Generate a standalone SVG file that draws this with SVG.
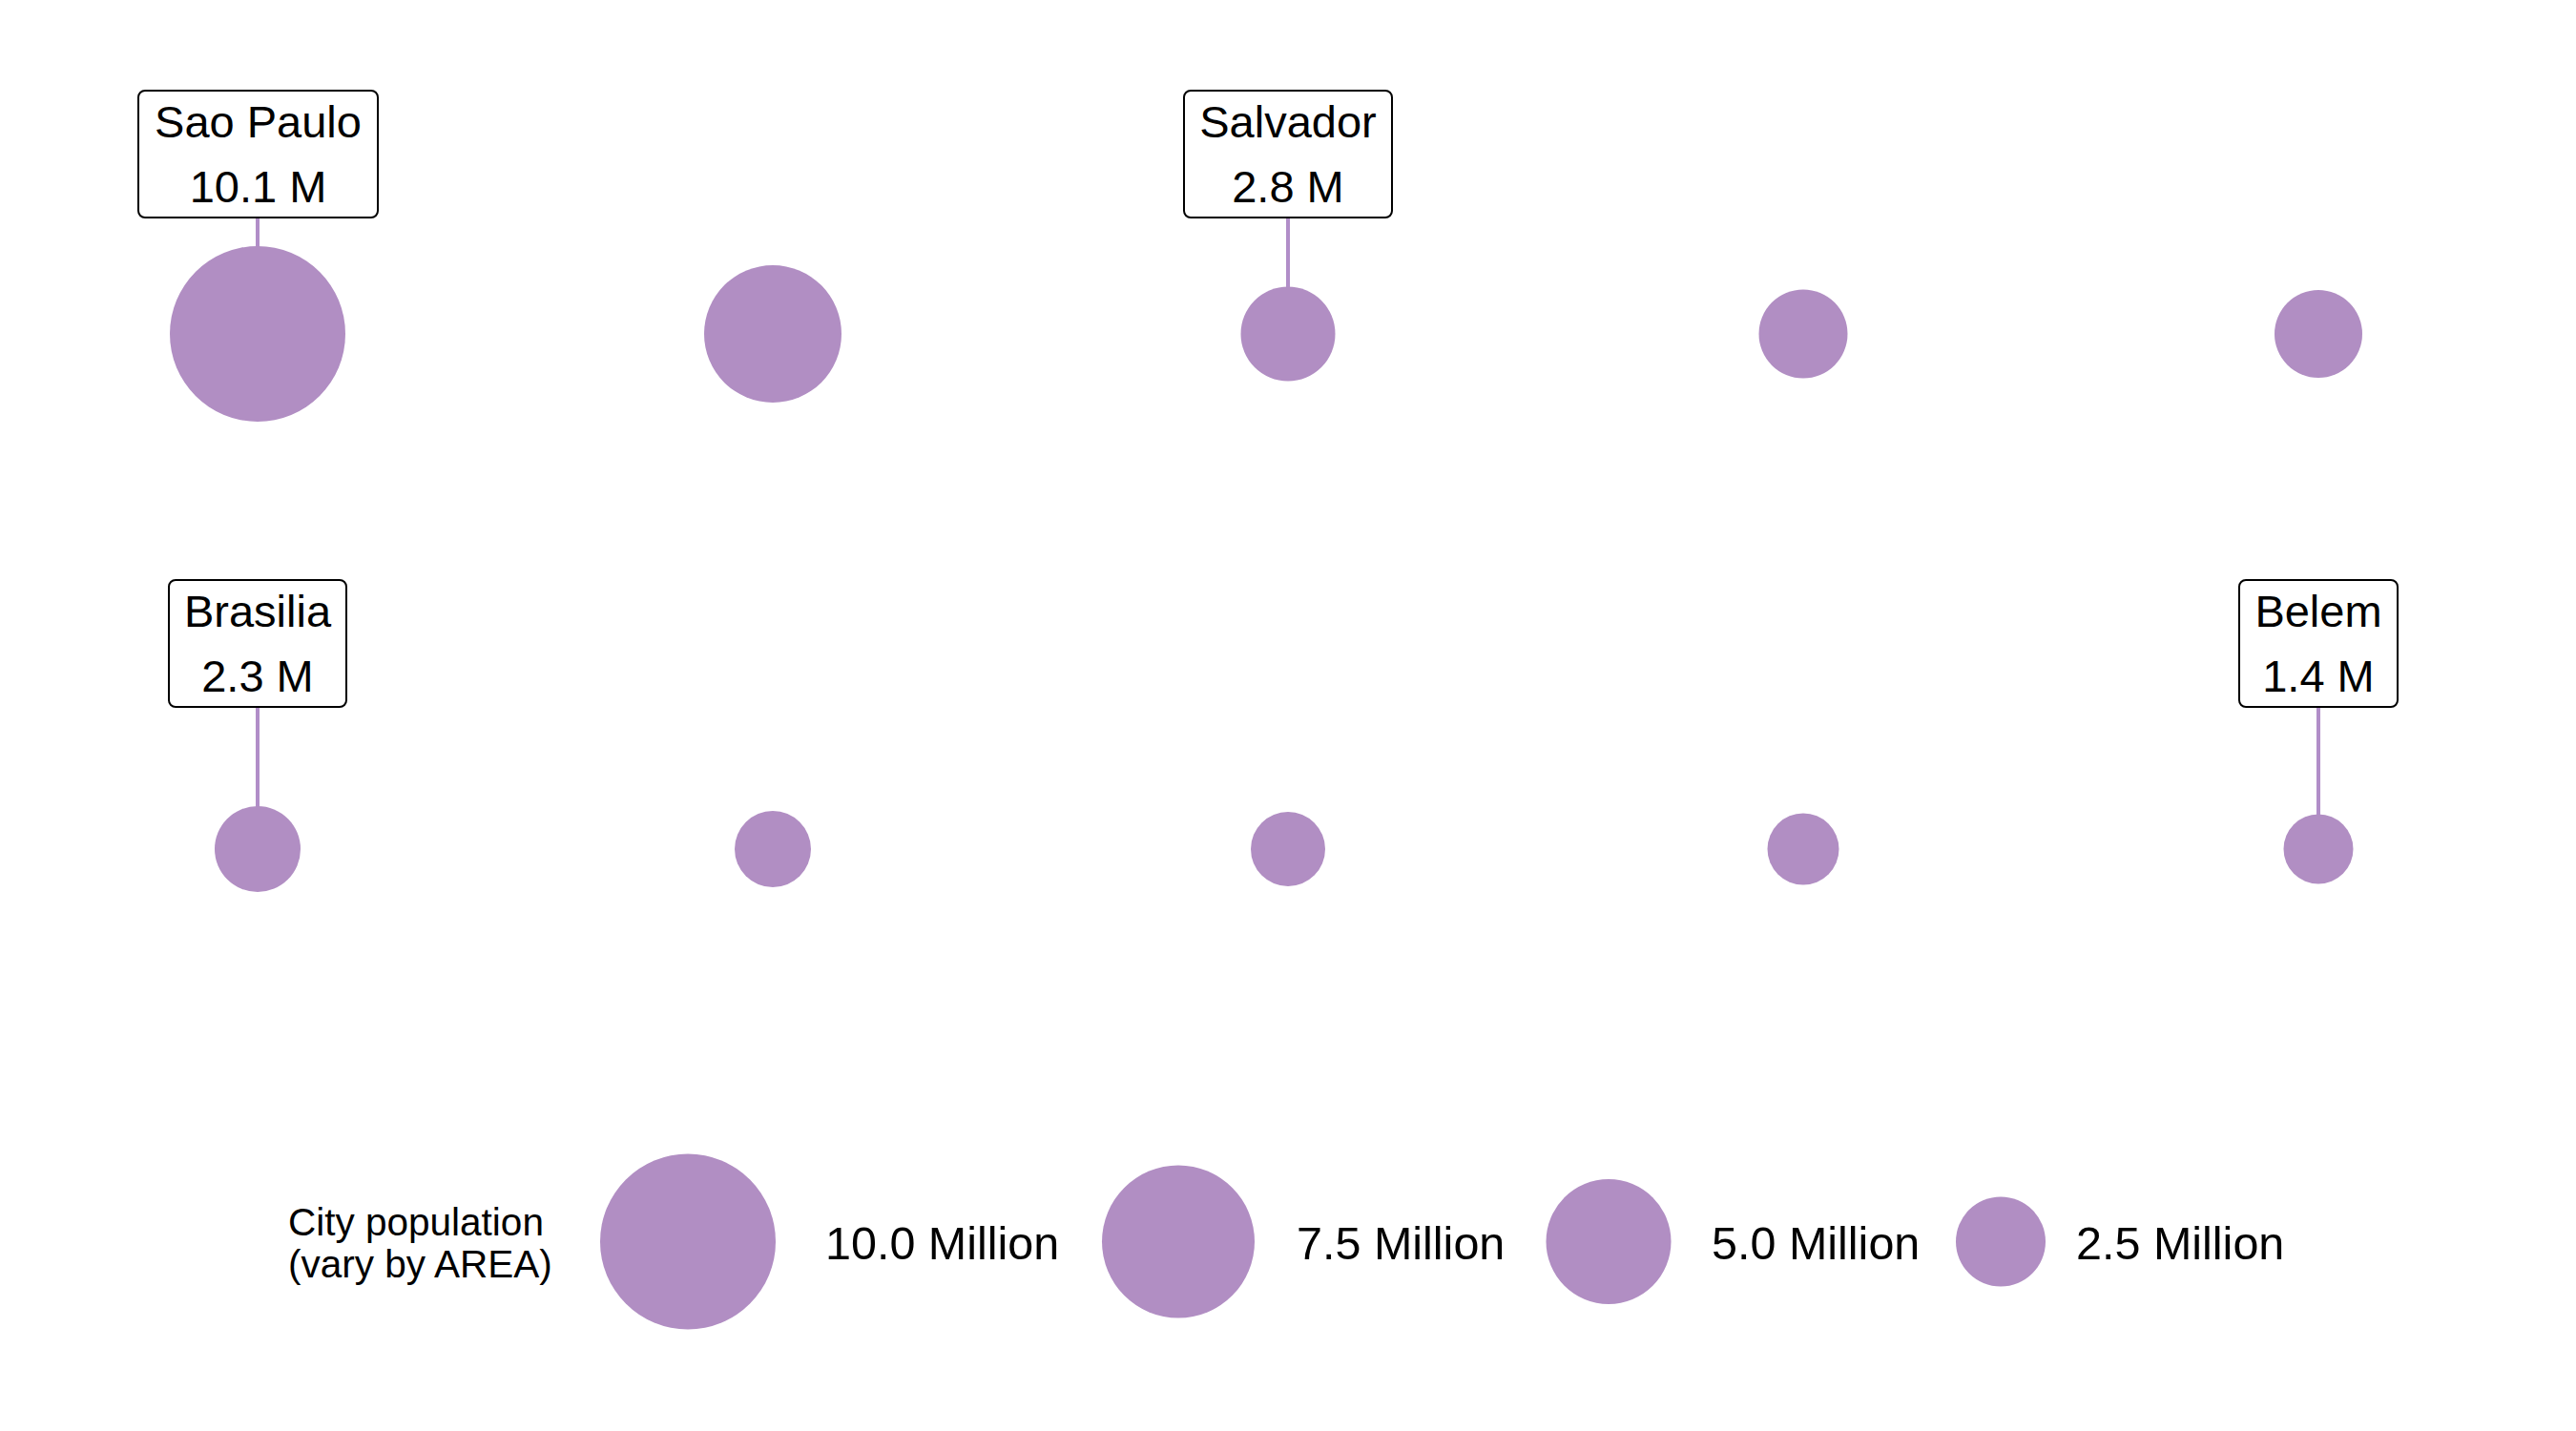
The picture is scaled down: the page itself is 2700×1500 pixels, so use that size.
<svg xmlns="http://www.w3.org/2000/svg" width="2700" height="1500" viewBox="0 0 2700 1500">
<style>
.bg{fill:#ffffff}
.pt{fill:#b18ec3}
.lbl{fill:#ffffff;stroke:#000000;stroke-width:2}
.t{font-family:"Liberation Sans",Arial,Helvetica,sans-serif;fill:#000000;text-anchor:middle;font-size:47px}
.lg{font-family:"Liberation Sans",Arial,Helvetica,sans-serif;fill:#000000;font-size:48.5px}
.lt{font-family:"Liberation Sans",Arial,Helvetica,sans-serif;fill:#000000;font-size:40.5px}
.cn{stroke:#b18ec8;stroke-width:4;fill:none}
</style>
<rect class="bg" x="0" y="0" width="2700" height="1500"/>
<g id="connectors">
<line class="cn" x1="270" y1="228" x2="270" y2="262"/>
<line class="cn" x1="1350" y1="228" x2="1350" y2="304"/>
<line class="cn" x1="270" y1="741" x2="270" y2="849"/>
<line class="cn" x1="2430" y1="741" x2="2430" y2="857"/>
</g>
<g id="points">
<circle id="p1" class="pt" cx="270" cy="350" r="92"/>
<circle id="p2" class="pt" cx="810" cy="350" r="72"/>
<circle id="p3" class="pt" cx="1350" cy="350" r="49.5"/>
<circle id="p4" class="pt" cx="1890" cy="350" r="46.5"/>
<circle id="p5" class="pt" cx="2430" cy="350" r="46"/>
<circle id="p6" class="pt" cx="270" cy="890" r="45"/>
<circle id="p7" class="pt" cx="810" cy="890" r="40"/>
<circle id="p8" class="pt" cx="1350" cy="890" r="39"/>
<circle id="p9" class="pt" cx="1890" cy="890" r="37.5"/>
<circle id="p10" class="pt" cx="2430" cy="890" r="36.5"/>
</g>
<g id="label-saopaulo">
<rect class="lbl" x="145" y="95" width="251" height="133" rx="7"/>
<text class="t" x="270.5" y="144">Sao Paulo</text>
<text class="t" x="270.5" y="212">10.1 M</text>
</g>
<g id="label-salvador">
<rect class="lbl" x="1241" y="95" width="218" height="133" rx="7"/>
<text class="t" x="1350" y="144">Salvador</text>
<text class="t" x="1350" y="212">2.8 M</text>
</g>
<g id="label-brasilia">
<rect class="lbl" x="177" y="608" width="186" height="133" rx="7"/>
<text class="t" x="270" y="657">Brasilia</text>
<text class="t" x="270" y="725">2.3 M</text>
</g>
<g id="label-belem">
<rect class="lbl" x="2347" y="608" width="166" height="133" rx="7"/>
<text class="t" x="2430" y="657">Belem</text>
<text class="t" x="2430" y="725">1.4 M</text>
</g>
<g id="legend">
<text class="lt" x="302" y="1295">City population</text>
<text class="lt" x="302" y="1339">(vary by AREA)</text>
<circle class="pt" cx="721" cy="1301.5" r="92"/>
<text class="lg" x="865" y="1320">10.0 Million</text>
<circle class="pt" cx="1235" cy="1301.5" r="80"/>
<text class="lg" x="1359" y="1320">7.5 Million</text>
<circle class="pt" cx="1686" cy="1301.5" r="65.5"/>
<text class="lg" x="1794" y="1320">5.0 Million</text>
<circle class="pt" cx="2097" cy="1301.5" r="47"/>
<text class="lg" x="2176" y="1320">2.5 Million</text>
</g>
</svg>
